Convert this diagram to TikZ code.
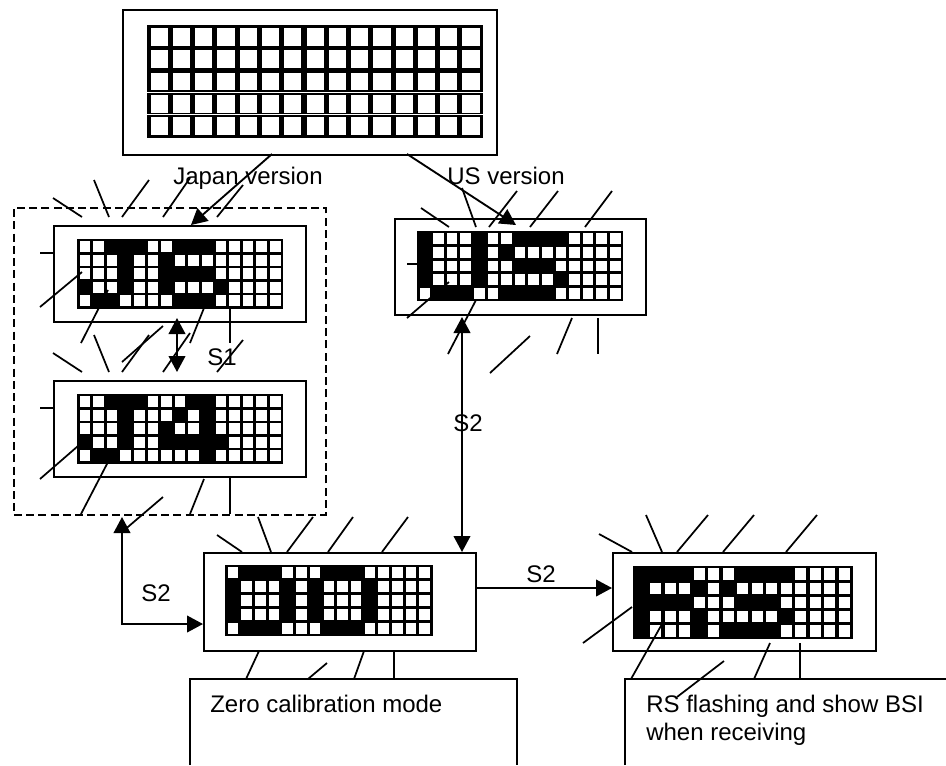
\documentclass[tikz,border=0pt]{standalone}
\usepackage{fontspec}
\setmainfont{Liberation Sans}
\usetikzlibrary{arrows.meta,positioning}

% grid of a display: x, y, cell width, cell height, row/{black cells}
\newcommand{\lcdgrid}[5]{
    \fill[black] (#1-1,#2-1) rectangle ++(15*#3+2,5*#4+2);
    \foreach \r in {0,...,4}
        \foreach \c in {0,...,14}
            \fill[white] (#1+\c*#3+0.12*#3,#2+\r*#4+0.1*#4) rectangle ++(0.77*#3,0.8*#4);
    \foreach \r/\cols in {#5}
        \foreach \c in \cols
            \fill[black] (#1+\c*#3,#2+\r*#4) rectangle ++(#3,#4);
}

\begin{document}
\begin{tikzpicture}[x=0.75pt,y=-0.75pt,
        panel/.style 2 args={draw, line width=1.5pt, rectangle, minimum width=#1*0.75pt-1pt, minimum height=#2*0.75pt-1pt, inner sep=0pt, anchor=north west},
        label/.style={font=\fontsize{18}{21}\selectfont, inner sep=0pt},
        ray/.style={line width=1.3pt},
        link/.style={line width=1.4pt},
        >={Triangle[length=12pt,width=12.5pt]}
    ]
        \useasboundingbox (0,0) rectangle (946,765);

        % Displays
        \node [panel={375}{146}] (full) at (122,9) {};
        \node [panel={253}{97}] (japan) at (53,225) {};
        \node [panel={253}{97}] (four) at (53,380) {};
        \node [panel={252}{97}] (us) at (394,218) {};
        \node [panel={273}{99}] (zero) at (203,552) {};
        \node [panel={264}{99}] (rs) at (612,552) {};

        \lcdgrid{148}{26}{22.27}{22.2}{}
        \draw[white, line width=0.6pt] (146,92) -- (484,92);
        \draw[white, line width=0.6pt] (146,114.5) -- (484,114.5);
        \lcdgrid{78}{240}{13.6}{13.5}{0/{2,3,4,7,8,9},1/{3,6},2/{3,6,7,8,9},3/{0,3,6,10},4/{1,2,7,8,9}}
        \lcdgrid{78}{395}{13.6}{13.5}{0/{2,3,4,8,9},1/{3,7,9},2/{3,6,9},3/{0,3,6,7,8,9,10},4/{1,2,9}}
        \lcdgrid{418}{232}{13.6}{13.6}{0/{0,4,7,8,9,10},1/{0,4,6},2/{0,4,7,8,9},3/{0,4,10},4/{1,2,3,6,7,8,9}}
        \lcdgrid{226}{566}{13.7}{13.8}{0/{1,2,3,7,8,9},1/{0,4,6,10},2/{0,4,6,10},3/{0,4,6,10},4/{1,2,3,7,8,9}}
        \lcdgrid{634}{567}{14.5}{14.2}{0/{0,1,2,3,7,8,9,10},1/{0,4,6},2/{0,1,2,3,7,8,9},3/{0,4,10},4/{0,4,6,7,8,9}}

        % Dashed group
        \node [draw, dash pattern=on 6pt off 3.2pt, line width=1.2pt, rectangle, minimum width=234pt, minimum height=230.25pt, inner sep=0pt, anchor=north west] (group) at (13,207) {};

        % Bottom notes
        \coordinate (zeroa) at (190,765);
        \coordinate (zerob) at (517,765);
        \coordinate (rsa) at (625,765);
        \coordinate (rsb) at (946,679);
        \draw [link] (zeroa) |- (zerob |- 0,679) -- (zerob);
        \draw [link] (rsa) |- (rsb);

        % Flash marks
        \foreach \y in {0,155}
            \foreach \xa/\ya/\xb/\yb in {53/198/82/217, 94/180/109/217, 149/180/122/217, 190/178/163/217, 243/185/217/217, 40/253/53/253}
                \draw [ray] (\xa,\ya+\y) -- (\xb,\yb+\y);
        \foreach \xa/\ya/\xb/\yb in {40/307/82/272, 81/343/108/290, 122/362/163/326, 190/343/204/308, 230/308/230/343,
                40/479/78/446, 81/514/108/462, 122/532/163/497, 190/514/204/479, 230/478/230/514,
                421/208/449/227, 462/188/476/227, 517/191/489/227, 558/191/530/227, 612/191/585/227, 407/264/420/264,
                407/318/449/282, 448/354/476/300, 490/373/530/336, 557/354/572/318, 598/318/598/354,
                217/535/242/552, 258/517/271/552, 313/517/287/552, 353/517/328/552, 408/517/382/552,
                246/679/259/651, 308/679/327/663, 354/679/364/651, 394/651/394/679,
                599/534/632/552, 646/515/662/552, 708/515/677/552, 754/515/723/552, 817/515/786/552,
                583/643/632/607, 631/679/662/624, 677/697/724/661, 754/679/770/643, 800/643/800/679}
            \draw [ray] (\xa,\ya) -- (\xb,\yb);

        % Labels
        \node [label, anchor=base west] (jplabel) at (173,184) {Japan version};
        \node [label, anchor=base west] (uslabel) at (447,184) {US version};
        \node [label] (sone) at (222,357) {S1};
        \node [label] (stwoa) at (468,423) {S2};
        \node [label] (stwob) at (156,593) {S2};
        \node [label] (stwoc) at (541,574) {S2};
        \node [label, anchor=base west] (zerotext) at (210,712) {Zero calibration mode};
        \node [label, anchor=base west] (rstext) at (646,712) {RS flashing and show BSI};
        \node [label, anchor=base west] (rstextb) at (646,740) {when receiving};

        % Arrows
        \coordinate (fullj) at (272,154);
        \coordinate (japanin) at (191,225);
        \coordinate (fullu) at (407,154);
        \coordinate (usin) at (516,225);
        \coordinate (japandown) at (177,318);
        \coordinate (fourup) at (177,372);
        \coordinate (usdown) at (462,317);
        \coordinate (zeroup) at (462,552);
        \coordinate (groupout) at (122,517);
        \coordinate (zeroin) at (203,624);
        \coordinate (zeroout) at (476,588);
        \coordinate (rsin) at (612,588);

        \draw [link, ->] (fullj) -- (japanin);
        \draw [link, ->] (fullu) -- (usin);
        \draw [link, <->] (japandown) -- (fourup);
        \draw [link, <->] (usdown) -- (zeroup);
        \draw [link, <->] (groupout) |- (zeroin);
        \draw [link, ->] (zeroout) -- (rsin);
\end{tikzpicture}
\end{document}
